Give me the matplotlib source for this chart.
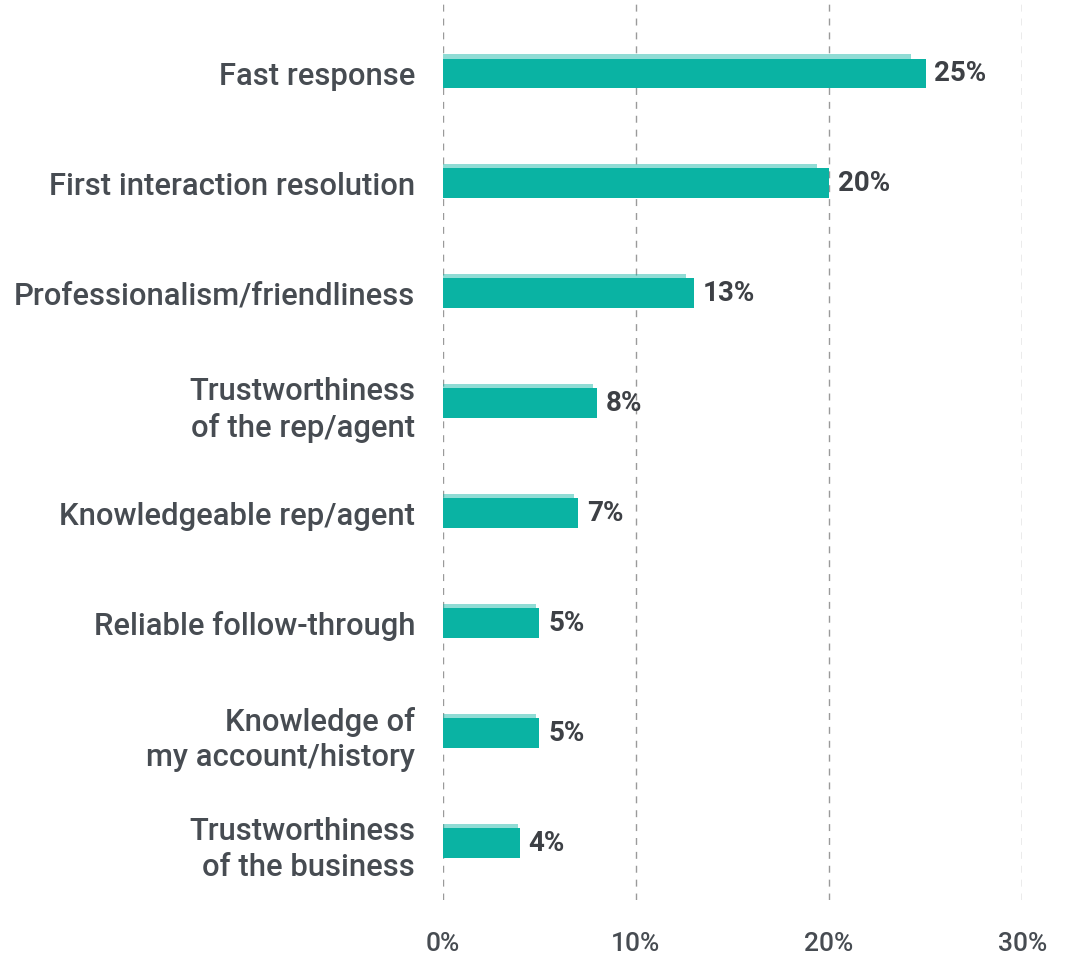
import numpy as np
from matplotlib import pyplot as plt

plt.rcParams['font.family'] = ['Roboto', 'DejaVu Sans']

categories = ['Fast response', 'First interaction resolution', 'Professionalism/friendliness',
              'Trustworthiness\nof the rep/agent', 'Knowledgeable rep/agent',
              'Reliable follow-through', 'Knowledge of\nmy account/history',
              'Trustworthiness\nof the business']
values = [25, 20, 13, 8, 7, 5, 5, 4]
ticks = [0, 10, 20, 30]
tick_labels = ['0%', '10%', '20%', '30%']

teal = '#0ab3a3'
text_col = '#474c52'

fig = plt.figure(figsize=(10.67, 9.57), dpi=100)
ax = fig.add_axes([0.415, 0.0596, 0.543, 0.940])

y = np.arange(len(categories))
ax.barh(y, values, height=0.27, color=teal, zorder=3)
# brush-like sliver along the top edge
ax.barh(y - 0.155, [v * 0.97 for v in values], height=0.04, color=teal, alpha=0.45, zorder=3)

for yi, v in zip(y, values):
    ax.text(v + 0.45, yi, f'{v}%', va='center', ha='left', fontsize=20,
            fontweight='bold', color='#3d4045', zorder=4)

ax.set_xlim(0, 30)
ax.set_ylim(len(categories) - 1 + 0.518, -0.664)
ax.set_yticks(y)
ax.set_yticklabels(categories, fontsize=22.3, color=text_col, linespacing=1.3,
                   fontweight='medium')
ax.set_xticks(ticks)
ax.set_xticklabels(tick_labels, fontsize=19, color=text_col, fontweight='medium')
ax.tick_params(axis='y', length=0, pad=20)
ax.tick_params(axis='x', length=0, pad=23)
for lab in ax.get_yticklabels():
    lab.set_horizontalalignment('right')

ax.xaxis.grid(True, color='#9a9a9a', linestyle=(0, (5, 5)), linewidth=1, zorder=0)
for s in ax.spines.values():
    s.set_visible(False)

plt.savefig('out.png', dpi=100)
